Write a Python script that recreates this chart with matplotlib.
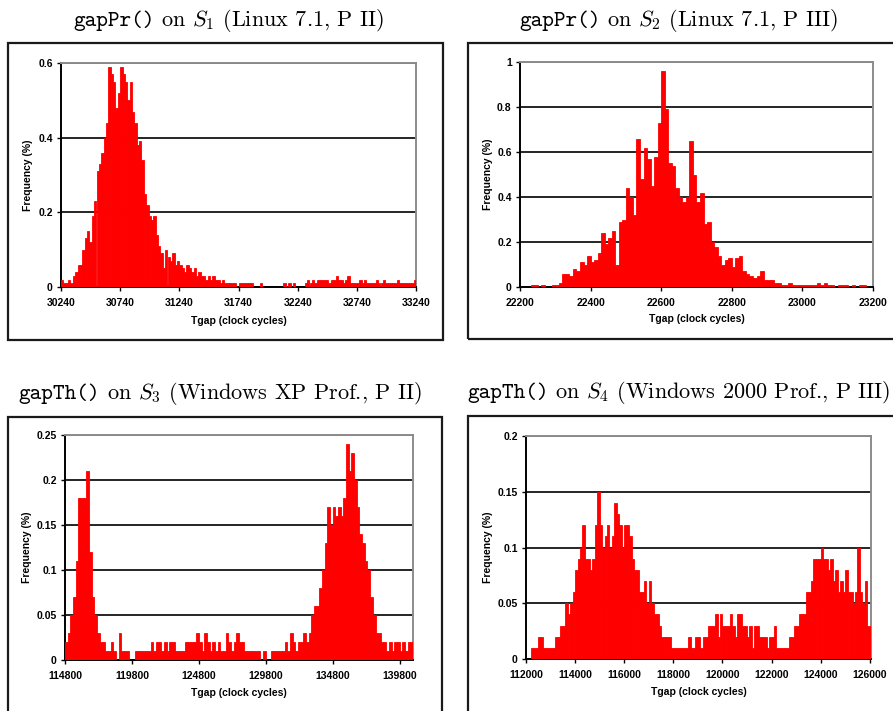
import numpy as np
import matplotlib
matplotlib.use("Agg")
import matplotlib.pyplot as plt
from matplotlib.patches import Rectangle
from matplotlib.ticker import FuncFormatter

plt.rcParams["mathtext.fontset"] = "cm"

W, H = 893, 711

# S1: gapPr() on Linux 7.1, P II  (bins of 20 cycles from 30240)
s1_start, s1_bin = 30240, 20
s1_freq = [
    0.02, 0.01, 0.01, 0.02, 0.01, 0.03, 0.04, 0.06, 0.06, 0.10,
    0.13, 0.15, 0.12, 0.19, 0.23, 0.31, 0.33, 0.36, 0.40, 0.44,
    0.59, 0.57, 0.55, 0.48, 0.52, 0.59, 0.57, 0.55, 0.50, 0.55,
    0.47, 0.44, 0.38, 0.39, 0.34, 0.25, 0.22, 0.19, 0.18, 0.19,
    0.14, 0.11, 0.09, 0.05, 0.10, 0.08, 0.07, 0.09, 0.06, 0.07,
    0.06, 0.05, 0.04, 0.06, 0.05, 0.04, 0.05, 0.03, 0.04, 0.03,
    0.03, 0.02, 0.03, 0.02, 0.03, 0.02, 0.02, 0.01, 0.02, 0.01,
    0.01, 0.01, 0.01, 0.01, 0.00, 0.01, 0.01, 0.01, 0.01, 0.01,
    0.01, 0.00, 0.00, 0.00, 0.01, 0.00, 0.00, 0.00, 0.00, 0.00,
    0.00, 0.00, 0.00, 0.00, 0.01, 0.00, 0.01, 0.00, 0.01, 0.00,
    0.00, 0.00, 0.00, 0.01, 0.02, 0.01, 0.02, 0.01, 0.02, 0.02,
    0.02, 0.02, 0.02, 0.01, 0.02, 0.02, 0.03, 0.02, 0.02, 0.01,
    0.02, 0.03, 0.01, 0.01, 0.01, 0.01, 0.02, 0.01, 0.02, 0.01,
    0.01, 0.01, 0.01, 0.02, 0.01, 0.01, 0.02, 0.01, 0.01, 0.01,
    0.01, 0.01, 0.02, 0.01, 0.01, 0.01, 0.01, 0.01, 0.01, 0.02,
]

# S2: gapPr() on Linux 7.1, P III  (bins of 10 cycles from 22200)
s2_start, s2_bin = 22200, 10
s2_freq = [
    0.00, 0.00, 0.00, 0.01, 0.01, 0.00, 0.01, 0.00, 0.00, 0.01,
    0.01, 0.02, 0.06, 0.06, 0.05, 0.08, 0.07, 0.11, 0.10, 0.14,
    0.11, 0.12, 0.15, 0.24, 0.19, 0.22, 0.25, 0.10, 0.29, 0.30,
    0.44, 0.40, 0.32, 0.66, 0.48, 0.62, 0.57, 0.45, 0.58, 0.73,
    0.96, 0.79, 0.55, 0.54, 0.44, 0.40, 0.38, 0.40, 0.65, 0.50,
    0.38, 0.42, 0.28, 0.29, 0.20, 0.18, 0.14, 0.10, 0.12, 0.13,
    0.09, 0.13, 0.14, 0.07, 0.06, 0.05, 0.04, 0.05, 0.07, 0.03,
    0.03, 0.03, 0.02, 0.02, 0.01, 0.01, 0.02, 0.01, 0.01, 0.01,
    0.01, 0.01, 0.01, 0.01, 0.02, 0.01, 0.02, 0.01, 0.01, 0.00,
    0.01, 0.01, 0.01, 0.00, 0.01, 0.00, 0.01, 0.01, 0.00, 0.00,
]

# S3: gapTh() on Windows XP Prof., P II  (bins of 200 cycles from 114800)
s3_start, s3_bin = 114800, 200
s3_freq = [
    0.02, 0.03, 0.05, 0.07, 0.11, 0.18, 0.18, 0.18, 0.21, 0.12,
    0.07, 0.05, 0.03, 0.02, 0.02, 0.01, 0.01, 0.02, 0.01, 0.00,
    0.03, 0.01, 0.01, 0.01, 0.00, 0.00, 0.01, 0.01, 0.01, 0.01,
    0.01, 0.01, 0.02, 0.01, 0.02, 0.02, 0.01, 0.02, 0.01, 0.02,
    0.02, 0.01, 0.01, 0.01, 0.01, 0.02, 0.02, 0.02, 0.02, 0.03,
    0.02, 0.01, 0.03, 0.02, 0.01, 0.02, 0.01, 0.02, 0.01, 0.01,
    0.03, 0.02, 0.01, 0.02, 0.03, 0.02, 0.02, 0.01, 0.01, 0.01,
    0.01, 0.01, 0.01, 0.00, 0.01, 0.00, 0.00, 0.01, 0.01, 0.01,
    0.01, 0.01, 0.02, 0.01, 0.03, 0.02, 0.01, 0.02, 0.02, 0.03,
    0.02, 0.03, 0.05, 0.06, 0.06, 0.08, 0.10, 0.13, 0.17, 0.15,
    0.17, 0.16, 0.17, 0.16, 0.18, 0.24, 0.21, 0.23, 0.20, 0.17,
    0.14, 0.13, 0.11, 0.10, 0.07, 0.05, 0.03, 0.03, 0.02, 0.02,
    0.01, 0.02, 0.01, 0.02, 0.02, 0.01, 0.02, 0.01, 0.02, 0.02,
]

# S4: gapTh() on Windows 2000 Prof., P III  (bins of 100 cycles from 112000)
s4_start, s4_bin = 112000, 100
s4_freq = [
    0.00, 0.00, 0.01, 0.01, 0.01, 0.02, 0.02, 0.01, 0.01, 0.01,
    0.01, 0.01, 0.02, 0.02, 0.03, 0.03, 0.05, 0.04, 0.05, 0.06,
    0.08, 0.09, 0.10, 0.12, 0.09, 0.09, 0.08, 0.09, 0.12, 0.15,
    0.12, 0.10, 0.11, 0.12, 0.10, 0.11, 0.14, 0.13, 0.12, 0.10,
    0.12, 0.12, 0.11, 0.09, 0.08, 0.08, 0.06, 0.06, 0.07, 0.05,
    0.07, 0.05, 0.04, 0.04, 0.03, 0.02, 0.02, 0.02, 0.02, 0.01,
    0.01, 0.01, 0.01, 0.01, 0.01, 0.01, 0.02, 0.01, 0.01, 0.02,
    0.02, 0.01, 0.02, 0.02, 0.03, 0.03, 0.03, 0.04, 0.02, 0.04,
    0.03, 0.03, 0.03, 0.04, 0.03, 0.02, 0.04, 0.04, 0.03, 0.03,
    0.02, 0.03, 0.01, 0.03, 0.03, 0.02, 0.02, 0.02, 0.01, 0.02,
    0.02, 0.03, 0.01, 0.01, 0.01, 0.01, 0.01, 0.02, 0.02, 0.03,
    0.03, 0.04, 0.04, 0.04, 0.06, 0.06, 0.07, 0.09, 0.09, 0.09,
    0.10, 0.09, 0.09, 0.08, 0.09, 0.07, 0.08, 0.06, 0.07, 0.06,
    0.08, 0.06, 0.06, 0.05, 0.06, 0.10, 0.06, 0.05, 0.07, 0.03,
    0.03,
]

s1_xticks = [30240, 30740, 31240, 31740, 32240, 32740, 33240]
s2_xticks = [22200, 22400, 22600, 22800, 23000, 23200]
s3_xticks = [114800, 119800, 124800, 129800, 134800, 139800]
s4_xticks = [112000, 114000, 116000, 118000, 120000, 122000, 124000, 126000]

# title = function name (typewriter) + the rest (roman with math)
title_funcs = ["gapPr()", "gapPr()", "gapTh()", "gapTh()"]
title_rest = [
    r" on $S_1$ (Linux 7.1, P II)",
    r" on $S_2$ (Linux 7.1, P III)",
    r" on $S_3$ (Windows XP Prof., P II)",
    r" on $S_4$ (Windows 2000 Prof., P III)",
]

# layout in pixels: title (left x, baseline y), frame (l, t, r, b), axes (l, t, r, b),
# ylabel centre x, xlabel centre y
panels = [
    dict(start=s1_start, bw=s1_bin, freq=s1_freq, xticks=s1_xticks,
         xlim=(30240, 33240), ymax=0.6, ystep=0.2,
         title=(73, 26), frame=(8, 43, 443, 340), ax=(61, 63, 416, 287),
         ylab_x=28, xlab_y=321),
    dict(start=s2_start, bw=s2_bin, freq=s2_freq, xticks=s2_xticks,
         xlim=(22200, 23200), ymax=1.0, ystep=0.2,
         title=(519, 26), frame=(468, 43, 905, 339), ax=(520, 62, 873, 287),
         ylab_x=488, xlab_y=319),
    dict(start=s3_start, bw=s3_bin, freq=s3_freq, xticks=s3_xticks,
         xlim=(114800, 140800), ymax=0.25, ystep=0.05,
         title=(18, 399), frame=(8, 417, 442, 720), ax=(65, 435, 413, 660),
         ylab_x=27, xlab_y=693),
    dict(start=s4_start, bw=s4_bin, freq=s4_freq, xticks=s4_xticks,
         xlim=(112000, 126050), ymax=0.2, ystep=0.05,
         title=(467, 398), frame=(468, 416, 905, 720), ax=(526, 436, 871, 659),
         ylab_x=488, xlab_y=692),
]

label_font = dict(family="Liberation Sans", weight="bold", size=7.5)
TITLE_SIZE = 16

fig = plt.figure(figsize=(W / 100, H / 100), dpi=100)
renderer = fig.canvas.get_renderer()

for p, func, rest in zip(panels, title_funcs, title_rest):
    fl, ft, fr, fb = p["frame"]
    fig.add_artist(Rectangle((fl / W, 1 - fb / H), (fr - fl) / W, (fb - ft) / H,
                             transform=fig.transFigure, fill=False,
                             edgecolor="#1a1a1a", linewidth=1.6))

    tx, ty = p["title"]
    t1 = fig.text(tx / W, 1 - ty / H, func, ha="left", va="baseline",
                  family="cmtt10", size=TITLE_SIZE)
    w = t1.get_window_extent(renderer).width
    fig.text((tx + w) / W, 1 - ty / H, rest, ha="left", va="baseline",
             family="cmr10", size=TITLE_SIZE)

    al, at, ar, ab = p["ax"]
    ax = fig.add_axes([al / W, 1 - ab / H, (ar - al) / W, (ab - at) / H])
    freq = np.array(p["freq"])
    left = p["start"] + p["bw"] * np.arange(len(freq))
    ax.bar(left, freq, width=p["bw"], align="edge", color="#ff0000",
           edgecolor="#ff0000", linewidth=0.6, zorder=3)

    ax.set_xlim(*p["xlim"])
    ax.set_ylim(0, p["ymax"])
    ax.set_xticks(p["xticks"])
    ax.set_yticks(np.arange(0, p["ymax"] + 1e-9, p["ystep"]))
    ax.yaxis.set_major_formatter(FuncFormatter(lambda v, _: f"{round(v, 3):g}"))
    ax.grid(axis="y", color="black", linewidth=1.2)
    ax.set_axisbelow(True)

    for side in ("left", "bottom"):
        ax.spines[side].set_color("black")
        ax.spines[side].set_linewidth(1.4)
    for side in ("top", "right"):
        ax.spines[side].set_color("#8c8c8c")
        ax.spines[side].set_linewidth(1.4)

    ax.tick_params(direction="out", length=3, width=1, labelsize=7.5)
    ax.tick_params(axis="x", pad=5)
    ax.tick_params(axis="y", pad=3)
    for lab in ax.get_xticklabels() + ax.get_yticklabels():
        lab.set_fontfamily("Liberation Sans")
        lab.set_fontweight("bold")

    ax.set_xlabel("Tgap (clock cycles)", fontdict=label_font)
    ax.set_ylabel("Frequency (%)", fontdict=label_font)
    ax.xaxis.set_label_coords(0.5, (ab - p["xlab_y"]) / (ab - at))
    ax.xaxis.label.set_va("center")
    ax.yaxis.set_label_coords((p["ylab_x"] - al) / (ar - al), 0.5)
    ax.yaxis.label.set_va("center")

fig.savefig("out.png", dpi=100)
